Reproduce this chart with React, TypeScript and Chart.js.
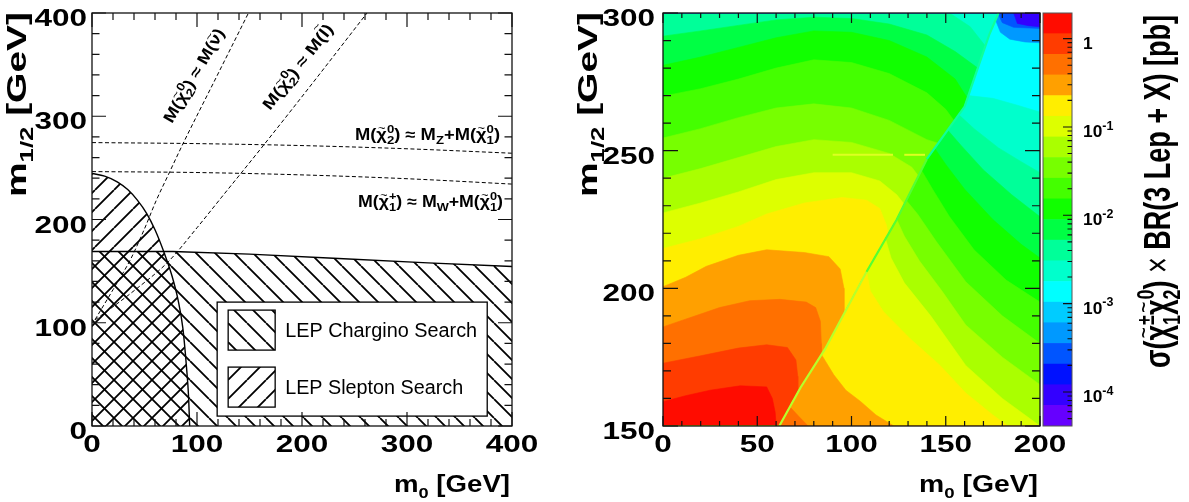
import React, { useEffect, useRef } from 'react';
import { Chart, registerables } from 'chart.js';

Chart.register(...registerables);

type P = [number, number];
type Seg = { t: string; sub?: string; sup?: string; tilde?: boolean; tildeLift?: number; thin?: boolean };

const PAGE_W = 1189;
const PAGE_H = 502;

// ---------------- Left panel: LEP limits in the (m0, m1/2) plane [GeV] ----------------
const LEFT_TICKS_X = [0, 100, 200, 300, 400];
const LEFT_TICKS_Y = [0, 100, 200, 300, 400];

const CHARGINO_LIMIT_M0 = [0, 77, 150, 230, 320, 400];
const CHARGINO_LIMIT_M12 = [169, 169, 166.5, 162.5, 158, 154.5];

const SLEPTON_LIMIT_M0 = [0, 12, 24, 34, 43, 52, 60, 69, 76, 82, 86.5, 90, 92, 93];
const SLEPTON_LIMIT_M12 = [244.5, 242, 236.5, 229, 219, 206, 190, 167, 146, 122, 95, 57, 28, 0];

const MZ_EDGE_M0 = [0, 100, 200, 300, 400];
const MZ_EDGE_M12 = [274.5, 273.5, 271.6, 268.5, 264.2];
const MW_EDGE_M0 = [0, 100, 200, 300, 400];
const MW_EDGE_M12 = [246.4, 245.5, 243.2, 239.5, 234.3];
const SNEUTRINO_EDGE_M0 = [2.9, 20, 37, 50, 61, 73, 86, 118, 149];
const SNEUTRINO_EDGE_M12 = [103, 132, 162, 191, 218, 244, 272, 337, 400];
const SLEPTON_EDGE_M0 = [2.9, 40, 72.4, 100, 122.9, 162.9, 210, 261.9];
const SLEPTON_EDGE_M12 = [102.7, 131, 158.9, 192, 220.9, 271.3, 332, 400];

// ---------------- Right panel: sigma x BR map ----------------
const RIGHT_TICKS_X = [0, 50, 100, 150, 200];
const RIGHT_TICKS_Y = [150, 200, 250, 300];

// log10(sigma x BR / pb) edges of the 20 colour levels
const LEVEL_EDGES_LOG10 = [
  -4.385, -4.151, -3.918, -3.684, -3.45, -3.216, -2.983, -2.749, -2.515, -2.281, -2.048,
  -1.814, -1.58, -1.346, -1.113, -0.879, -0.645, -0.411, -0.178, 0.056, 0.29,
];
const LEVEL_COLORS = [
  '#6600ff', '#3300ff', '#0011ff', '#0055ff', '#0099ff', '#00ccff', '#00ffff', '#00ffcc', '#00ff99', '#00ff44',
  '#11ff00', '#44ff00', '#77ff00', '#aaff00', '#ddff00', '#ffee00', '#ffa000', '#ff7000', '#ff3c00', '#ff0c00',
];
const COLORBAR_DECADES = [0, -1, -2, -3, -4];

// narrow ridge separating the two regimes of the map
const RIDGE: P[] = [[61.7, 150], [73, 164], [86, 178], [108, 206], [124, 225], [140, 247], [160, 266], [173, 292], [178, 300]];

// level contours left of the ridge (band = level just below the contour)
const LEFT_OF_RIDGE: { band: number; pts: P[] }[] = [
  { band: 8, pts: [[0, 300], [152, 300], [163, 295], [171, 288]] },
  { band: 9, pts: [[0, 291.6], [20, 293.5], [40, 295.5], [60, 297.5], [80, 298.5], [100, 298], [120, 296], [140, 292], [155, 286], [167, 280]] },
  { band: 10, pts: [[0, 281], [20, 284], [40, 287.5], [60, 291], [80, 293.5], [100, 293], [120, 290], [140, 284], [155, 276], [161.5, 269]] },
  { band: 11, pts: [[0, 269.8], [20, 272.5], [40, 276], [60, 280], [80, 283], [100, 282], [120, 278], [140, 271], [150, 265], [154.5, 260.8]] },
  { band: 12, pts: [[0, 254.6], [20, 258], [40, 262], [60, 265.5], [80, 267], [100, 265.5], [120, 261], [140, 254], [146, 252.7]] },
  { band: 13, pts: [[0, 240], [20, 243.5], [40, 247.5], [60, 251.5], [80, 254], [100, 253], [120, 249], [132, 244], [135.5, 240.8]] },
  { band: 14, pts: [[0, 227.4], [20, 231], [40, 235], [60, 239.5], [80, 242], [100, 242], [115, 239], [124, 234], [128, 230.5]] },
  { band: 15, pts: [[0, 214.5], [20, 218], [40, 222.5], [55, 227], [75, 231], [95, 233], [108, 232], [115, 229], [118.5, 223], [119.5, 219.7]] },
  { band: 16, pts: [[0, 200.6], [12, 204], [23, 208], [40, 212], [55, 214], [75, 213], [88, 211.5], [94, 207], [96, 200], [96, 190.7]] },
  { band: 17, pts: [[0, 186], [15, 189.5], [30, 193], [46, 195.5], [62, 196], [76, 195], [81, 193], [83.5, 188], [84, 180], [84, 175.8]] },
  { band: 18, pts: [[0, 172.8], [20, 175.5], [40, 178.3], [55, 179.5], [66, 178.5], [70.5, 174], [71.5, 168], [71.5, 162.1]] },
  { band: 19, pts: [[0, 158.8], [12, 161], [25, 163], [41, 164.6], [55, 164.2], [58, 160], [59.5, 155], [60, 150]] },
];

// level contours right of the ridge
const RIGHT_OF_RIDGE: { band: number; pts: P[] }[] = [
  { band: 7, pts: [[162, 270], [175, 269], [188, 266.5], [200, 264]] },
  { band: 8, pts: [[157, 263], [165, 258], [178, 251], [190, 246], [200, 242]] },
  { band: 9, pts: [[151, 257.5], [158, 252], [170, 243], [185, 234], [200, 226]] },
  { band: 10, pts: [[144, 251], [150, 245], [160, 236], [175, 225], [190, 216], [200, 211]] },
  { band: 11, pts: [[137, 243], [143, 236], [152, 226], [165, 214], [182, 203], [200, 195]] },
  { band: 12, pts: [[129, 232], [135, 227], [145, 217], [160.6, 202.4], [180, 190], [200, 180]] },
  { band: 13, pts: [[124, 225], [128, 219], [136, 210], [148, 199], [160.6, 186.7], [180, 175], [200, 165]] },
  { band: 14, pts: [[118, 218], [121, 211], [128, 202], [142, 190], [160.6, 172], [180, 160], [200, 150]] },
  { band: 15, pts: [[108, 206], [110, 199], [117, 191.5], [131, 181.8], [147, 172], [160.6, 162], [175, 154], [183, 150]] },
  { band: 16, pts: [[84, 176], [90.6, 168.6], [97, 163], [104.8, 158.9], [113, 154], [122.5, 150]] },
  { band: 17, pts: [[67.3, 157], [72, 153.5], [77, 150]] },
];

// low-value corner at large m0 and m1/2
const HIGH_MASS_CORNER: { band: number; pts: P[] }[] = [
  { band: 4, pts: [[176.4, 297.5], [179, 293], [184, 290.5], [192, 289.5], [200, 289.2]] },
  { band: 3, pts: [[177.6, 300], [180, 296.5], [186, 294.8], [200, 294.4]] },
  { band: 1, pts: [[186, 300], [188, 296.2], [194, 295.4], [200, 295]] },
];

const RIDGE_STREAKS: P[][] = [
  [[90, 248.5], [122, 248.5]],
  [[128, 248.5], [139, 248.5]],
];

// ---------------- layout ----------------
const LEFT_AREA = { left: 92, top: 13, right: 512, bottom: 426 };
const HEAT_AREA = { left: 663, top: 13, right: 1040, bottom: 426 };
const BAR_AREA = { left: 1043, top: 13, right: 1072, bottom: 426 };
const pad = (a: { left: number; top: number; right: number; bottom: number }) => ({
  left: a.left,
  top: a.top,
  right: PAGE_W - a.right,
  bottom: PAGE_H - a.bottom,
});

const FAMILY = '"Liberation Sans", Arial, Helvetica, sans-serif';
const font = (size: number, bold: boolean) => `${bold ? 'bold ' : ''}${size.toFixed(2)}px ${FAMILY}`;

function drawRich(
  ctx: CanvasRenderingContext2D,
  segs: Seg[],
  o: { x: number; y: number; size: number; bold?: boolean; angle?: number; align?: 'left' | 'right' | 'center'; fit?: number; sx?: number; sy?: number; script?: number }
) {
  const bold = o.bold !== false;
  const small = o.size * (o.script ?? 0.66);
  ctx.save();
  const m = segs.map((s) => {
    ctx.font = font(o.size, bold && !s.thin);
    const wt = ctx.measureText(s.t).width;
    ctx.font = font(small, bold);
    const ws = s.sub ? ctx.measureText(s.sub).width : 0;
    const wp = s.sup ? ctx.measureText(s.sup).width : 0;
    return { wt, wx: Math.max(ws, wp) };
  });
  const total = m.reduce((acc, w) => acc + w.wt + w.wx, 0);
  const sx = o.fit ? o.fit / total : o.sx ?? 1;
  const sy = o.sy ?? 1;
  let cx = o.align === 'right' ? -total : o.align === 'center' ? -total / 2 : 0;
  ctx.translate(o.x, o.y);
  if (o.angle) ctx.rotate((o.angle * Math.PI) / 180);
  ctx.scale(sx, sy);
  ctx.fillStyle = '#000';
  ctx.textAlign = 'left';
  ctx.textBaseline = 'alphabetic';
  segs.forEach((s, i) => {
    const { wt, wx } = m[i];
    ctx.font = font(o.size, bold && !s.thin);
    ctx.fillText(s.t, cx, 0);
    if (s.tilde) {
      ctx.font = font(o.size * 0.7, false);
      const tw = ctx.measureText('~').width;
      ctx.fillText('~', cx + (wt - tw) / 2, -o.size * (s.tildeLift ?? 0.5));
    }
    cx += wt;
    ctx.font = font(small, bold);
    if (s.sub) ctx.fillText(s.sub, cx, o.size * 0.27);
    if (s.sup) ctx.fillText(s.sup, cx, -o.size * 0.45);
    cx += wx;
  });
  ctx.restore();
}

function drawFrame(
  chart: any,
  t: { xMajor: number[]; xMinor: number; yMajor: number[]; yMinor: number; xLen: [number, number]; yLen: [number, number] }
) {
  const { ctx, chartArea: a } = chart;
  const xs = chart.scales.x;
  const ys = chart.scales.y;
  const isMajor = (list: number[], v: number) => list.some((mv) => Math.abs(mv - v) < 1e-6);
  ctx.save();
  ctx.strokeStyle = '#111';
  ctx.lineWidth = 1.3;
  ctx.strokeRect(a.left, a.top, a.right - a.left, a.bottom - a.top);
  ctx.lineWidth = 1.2;
  ctx.beginPath();
  for (let v = xs.min; v <= xs.max + 1e-6; v += t.xMinor) {
    const px = xs.getPixelForValue(v);
    const len = isMajor(t.xMajor, v) ? t.xLen[0] : t.xLen[1];
    ctx.moveTo(px, a.bottom);
    ctx.lineTo(px, a.bottom - len);
    ctx.moveTo(px, a.top);
    ctx.lineTo(px, a.top + len);
  }
  for (let v = ys.min; v <= ys.max + 1e-6; v += t.yMinor) {
    const py = ys.getPixelForValue(v);
    const len = isMajor(t.yMajor, v) ? t.yLen[0] : t.yLen[1];
    ctx.moveTo(a.left, py);
    ctx.lineTo(a.left + len, py);
    ctx.moveTo(a.right, py);
    ctx.lineTo(a.right - len, py);
  }
  ctx.stroke();
  ctx.restore();
}

function axisLabels(chart: any, xTicks: number[], yTicks: number[], yGap: number, xTitleWidth: number) {
  const { ctx, chartArea: a } = chart;
  const xs = chart.scales.x;
  const ys = chart.scales.y;
  yTicks.forEach((v) =>
    drawRich(ctx, [{ t: String(v) }], { x: a.left - yGap, y: ys.getPixelForValue(v) + 13, size: 23, align: 'right', sx: 1.37 })
  );
  xTicks.forEach((v) =>
    drawRich(ctx, [{ t: String(v) }], { x: xs.getPixelForValue(v), y: 452, size: 23, align: 'center', sx: 1.37 })
  );
  drawRich(ctx, [{ t: 'm', sub: '1/2' }, { t: ' [GeV]' }], { x: a.left - 66.3, y: 197, size: 28, angle: -90, fit: 185 });
  drawRich(ctx, [{ t: 'm', sub: '0' }, { t: ' [GeV]' }], { x: a.right - 2, y: 492, size: 23, align: 'right', fit: xTitleWidth });
}

function hatch(dir: 1 | -1, step = 19, lw = 1.8): CanvasPattern {
  const c = document.createElement('canvas');
  c.width = step;
  c.height = step;
  const g = c.getContext('2d')!;
  g.strokeStyle = '#000';
  g.lineWidth = lw;
  g.beginPath();
  for (let k = -1; k <= 1; k++) {
    if (dir === 1) {
      g.moveTo(k * step, 0);
      g.lineTo(k * step + step, step);
    } else {
      g.moveTo(k * step, step);
      g.lineTo(k * step + step, 0);
    }
  }
  g.stroke();
  return g.createPattern(c, 'repeat')!;
}

const xy = (xs: number[], ys: number[]) => xs.map((x, i) => ({ x, y: ys[i] }));
const ptsXY = (pts: P[]) => pts.map(([x, y]) => ({ x, y }));

const chi20: Seg = { t: 'χ', tilde: true, sub: '2', sup: '0' };
const chi10: Seg = { t: 'χ', tilde: true, sub: '1', sup: '0' };

function leftConfig(): any {
  const back = hatch(1);
  const fwd = hatch(-1);
  const dashed = (xs: number[], ys: number[], order: number) => ({
    data: xy(xs, ys),
    showLine: true,
    fill: false,
    borderColor: '#000',
    borderWidth: 1,
    borderDash: [4, 2.5],
    pointRadius: 0,
    cubicInterpolationMode: 'monotone',
    order,
  });
  const decor = {
    id: 'leftDecor',
    afterDatasetsDraw(chart: any) {
      const { ctx, chartArea: a } = chart;
      const w = a.right - a.left;
      const h = a.bottom - a.top;
      const bx = a.left + w * 0.298;
      const by = a.top + h * 0.7;
      const bw = w * 0.643;
      const bh = h * 0.276;
      ctx.save();
      ctx.fillStyle = '#fff';
      ctx.fillRect(bx, by, bw, bh);
      ctx.strokeStyle = '#000';
      ctx.lineWidth = 1.3;
      ctx.strokeRect(bx, by, bw, bh);
      const entries = [
        { ds: chart.data.datasets[5], y: by + 8 },
        { ds: chart.data.datasets[4], y: by + 65 },
      ];
      entries.forEach((e, i) => {
        ctx.fillStyle = e.ds.backgroundColor;
        ctx.fillRect(bx + 11, e.y, 47, 40);
        ctx.strokeStyle = '#000';
        ctx.lineWidth = 1.3;
        ctx.strokeRect(bx + 11, e.y, 47, 40);
        drawRich(ctx, [{ t: e.ds.label }], { x: bx + 68, y: e.y + 27, size: 20, bold: false, fit: i === 0 ? 192 : 178 });
      });
      ctx.restore();
    },
    afterDraw(chart: any) {
      const { ctx } = chart;
      drawFrame(chart, { xMajor: LEFT_TICKS_X, xMinor: 20, yMajor: LEFT_TICKS_Y, yMinor: 20, xLen: [14, 7], yLen: [14, 7.5] });
      axisLabels(chart, LEFT_TICKS_X, LEFT_TICKS_Y, 5, 116);
      drawRich(ctx, [{ t: 'M(' }, chi20, { t: ') ≈ M', sub: 'Z' }, { t: '+M(' }, chi10, { t: ')' }], { x: 500, y: 140, size: 16, align: 'right', fit: 145, script: 0.72 });
      drawRich(ctx, [{ t: 'M(' }, { t: 'χ', tilde: true, sub: '1', sup: '+' }, { t: ') ≈ M', sub: 'W' }, { t: '+M(' }, chi10, { t: ')' }], { x: 503, y: 207, size: 16, align: 'right', fit: 145, script: 0.72 });
      drawRich(ctx, [{ t: 'M(' }, chi20, { t: ') ≈ M(' }, { t: 'ν', tilde: true }, { t: ')' }], { x: 172, y: 124, size: 16, angle: -60, fit: 106, script: 0.72 });
      drawRich(ctx, [{ t: 'M(' }, chi20, { t: ') ≈ M(' }, { t: 'l', tilde: true, tildeLift: 0.72 }, { t: ')' }], { x: 270, y: 111, size: 16, angle: -52, fit: 104, script: 0.72 });
    },
  };
  return {
    type: 'scatter',
    data: {
      datasets: [
        dashed(MZ_EDGE_M0, MZ_EDGE_M12, 1),
        dashed(MW_EDGE_M0, MW_EDGE_M12, 2),
        dashed(SNEUTRINO_EDGE_M0, SNEUTRINO_EDGE_M12, 3),
        dashed(SLEPTON_EDGE_M0, SLEPTON_EDGE_M12, 4),
        {
          label: 'LEP Slepton Search',
          data: xy(SLEPTON_LIMIT_M0, SLEPTON_LIMIT_M12),
          showLine: true,
          fill: 'origin',
          backgroundColor: fwd,
          borderColor: '#000',
          borderWidth: 1.4,
          pointRadius: 0,
          cubicInterpolationMode: 'monotone',
          order: 5,
        },
        {
          label: 'LEP Chargino Search',
          data: xy(CHARGINO_LIMIT_M0, CHARGINO_LIMIT_M12),
          showLine: true,
          fill: 'origin',
          backgroundColor: back,
          borderColor: '#000',
          borderWidth: 1.4,
          pointRadius: 0,
          order: 6,
        },
      ],
    },
    options: {
      animation: false,
      responsive: false,
      events: [],
      layout: { padding: pad(LEFT_AREA) },
      plugins: { legend: { display: false }, tooltip: { enabled: false } },
      scales: {
        x: { type: 'linear', min: 0, max: 400, display: false },
        y: { type: 'linear', min: 0, max: 400, display: false },
      },
    },
    plugins: [decor],
  };
}

function heatConfig(): any {
  const top = RIDGE[RIDGE.length - 1];
  const paint: { pts: P[]; color: string }[] = [];
  paint.push({ pts: [[0, 150], [0, 300], [200, 300], [200, 150]], color: LEVEL_COLORS[7] });
  LEFT_OF_RIDGE.forEach((c) => paint.push({ pts: [[0, 150], ...c.pts, [200, 150]], color: LEVEL_COLORS[c.band] }));
  paint.push({ pts: [[0, 150], ...RIDGE, [200, 300], [200, 150]], color: LEVEL_COLORS[6] });
  RIGHT_OF_RIDGE.forEach((c) => {
    const below = RIDGE.filter((p) => p[1] < c.pts[0][1] - 0.01);
    paint.push({ pts: [[0, 150], ...below, ...c.pts, [200, 150]], color: LEVEL_COLORS[c.band] });
  });
  HIGH_MASS_CORNER.forEach((c) => {
    const lead: P[] = c.pts[0][1] < 300 ? [[0, 300], [top[0], 300]] : [[0, 300]];
    paint.push({ pts: [...lead, ...c.pts, [200, 300]], color: LEVEL_COLORS[c.band] });
  });
  const n = paint.length;
  const datasets: any[] = paint.map((p, i) => ({
    data: ptsXY(p.pts),
    showLine: true,
    fill: 'shape',
    backgroundColor: p.color,
    borderColor: p.color,
    borderWidth: 0.6,
    pointRadius: 0,
    order: 1000 - i,
  }));
  datasets.push({
    data: ptsXY(RIDGE),
    showLine: true,
    fill: false,
    borderWidth: 2.2,
    borderColor: '#4dff3a',
    segment: {
      borderColor: (c: any) => {
        const y = c.p0.parsed.y;
        return y < 180 ? '#b8ff2a' : y < 235 ? '#55ff33' : '#10ff9a';
      },
    },
    pointRadius: 0,
    order: 1000 - n,
  });
  RIDGE_STREAKS.forEach((s, i) =>
    datasets.push({
      data: ptsXY(s),
      showLine: true,
      fill: false,
      borderWidth: 2,
      borderColor: '#ddff22',
      pointRadius: 0,
      order: 1000 - n - 1 - i,
    })
  );
  const decor = {
    id: 'heatDecor',
    afterDraw(chart: any) {
      drawFrame(chart, { xMajor: RIGHT_TICKS_X, xMinor: 10, yMajor: RIGHT_TICKS_Y, yMinor: 10, xLen: [10, 5], yLen: [15, 8] });
      axisLabels(chart, RIGHT_TICKS_X, RIGHT_TICKS_Y, 8, 119);
    },
  };
  return {
    type: 'scatter',
    data: { datasets },
    options: {
      animation: false,
      responsive: false,
      events: [],
      layout: { padding: pad(HEAT_AREA) },
      plugins: { legend: { display: false }, tooltip: { enabled: false } },
      scales: {
        x: { type: 'linear', min: 0, max: 200, display: false },
        y: { type: 'linear', min: 150, max: 300, display: false },
      },
    },
    plugins: [decor],
  };
}

function colorbarConfig(): any {
  const datasets = LEVEL_COLORS.map((c, i) => ({
    data: [[Math.pow(10, LEVEL_EDGES_LOG10[i]), Math.pow(10, LEVEL_EDGES_LOG10[i + 1])]],
    backgroundColor: c,
    borderWidth: 0,
    barPercentage: 1,
    categoryPercentage: 1,
    grouped: false,
  }));
  const decor = {
    id: 'barDecor',
    afterDraw(chart: any) {
      const { ctx, chartArea: a } = chart;
      const ys = chart.scales.y;
      ctx.save();
      ctx.strokeStyle = '#555';
      ctx.lineWidth = 1;
      ctx.strokeRect(a.left, a.top, a.right - a.left, a.bottom - a.top);
      ctx.strokeStyle = '#111';
      ctx.lineWidth = 1.1;
      ctx.beginPath();
      for (let k = -5; k <= 0; k++) {
        for (let j = 1; j <= 9; j++) {
          const v = j * Math.pow(10, k);
          if (v < ys.min || v > ys.max) continue;
          const py = ys.getPixelForValue(v);
          const len = j === 1 ? 9 : 4.5;
          ctx.moveTo(a.right, py);
          ctx.lineTo(a.right - len, py);
        }
      }
      ctx.stroke();
      ctx.restore();
      COLORBAR_DECADES.forEach((k) => {
        const py = ys.getPixelForValue(Math.pow(10, k));
        const segs: Seg[] = k === 0 ? [{ t: '1' }] : [{ t: '10', sup: String(k) }];
        drawRich(ctx, segs, { x: a.right + 11, y: py + 10, size: 16.5, sx: 1.05, script: 0.72 });
      });
      drawRich(
        ctx,
        [
          { t: 'σ(' },
          { t: 'χ', tilde: true, sub: '1', sup: '±' },
          { t: 'χ', tilde: true, sub: '2', sup: '0' },
          { t: ') ' },
          { t: '×', thin: true },
          { t: ' BR(3 Lep + X) [pb]' },
        ],
        { x: 1170, y: 368, size: 28, angle: -90, fit: 353, sy: 1.3 }
      );
    },
  };
  return {
    type: 'bar',
    data: { labels: [''], datasets },
    options: {
      animation: false,
      responsive: false,
      events: [],
      layout: { padding: pad(BAR_AREA) },
      plugins: { legend: { display: false }, tooltip: { enabled: false } },
      scales: {
        x: { display: false },
        y: {
          type: 'logarithmic',
          display: false,
          min: Math.pow(10, LEVEL_EDGES_LOG10[0]),
          max: Math.pow(10, LEVEL_EDGES_LOG10[LEVEL_EDGES_LOG10.length - 1]),
        },
      },
    },
    plugins: [decor],
  };
}

export default function App() {
  const leftRef = useRef<HTMLCanvasElement>(null);
  const heatRef = useRef<HTMLCanvasElement>(null);
  const barRef = useRef<HTMLCanvasElement>(null);

  useEffect(() => {
    const charts = [
      new Chart(leftRef.current!, leftConfig()),
      new Chart(heatRef.current!, heatConfig()),
      new Chart(barRef.current!, colorbarConfig()),
    ];
    return () => charts.forEach((c) => c.destroy());
  }, []);

  const layer: React.CSSProperties = { position: 'absolute', left: 0, top: 0 };
  return (
    <div style={{ position: 'absolute', left: 0, top: 0, width: PAGE_W, height: PAGE_H, background: '#fff', overflow: 'hidden' }}>
      <canvas ref={leftRef} width={PAGE_W} height={PAGE_H} style={layer} />
      <canvas ref={heatRef} width={PAGE_W} height={PAGE_H} style={layer} />
      <canvas ref={barRef} width={PAGE_W} height={PAGE_H} style={layer} />
    </div>
  );
}
